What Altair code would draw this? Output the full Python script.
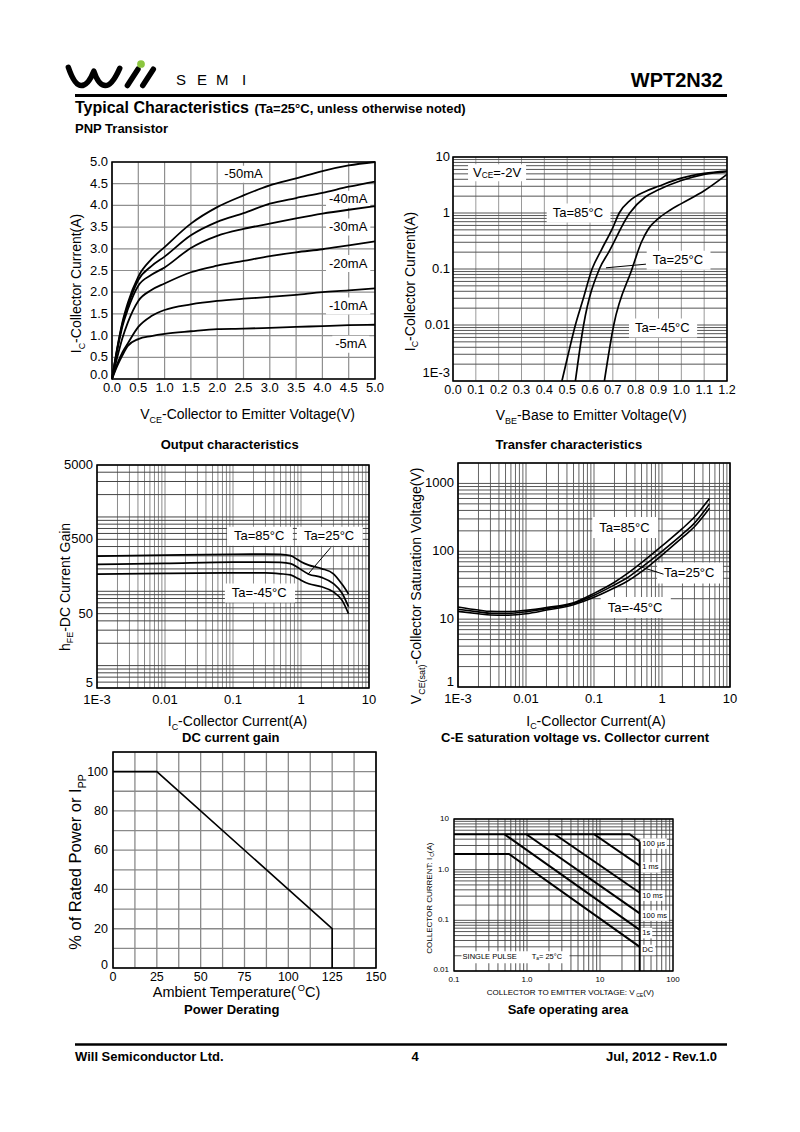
import altair as alt
import pandas as pd

FONT = "Liberation Sans"
W, H, OFF = 784, 1116, 8

# ---------------- chart values ----------------
# Output characteristics (VCE in V, IC in A, per base current)
OUT_VCE = [0, 0.1, 0.2, 0.3, 0.5, 0.75, 1.0, 1.5, 2.0, 2.5, 3.0, 3.5, 4.0, 4.5, 5.0]
OUT_IB = ["-50mA", "-40mA", "-30mA", "-20mA", "-10mA", "-5mA"]
OUT_IC_50 = [0, 0.72, 1.32, 1.75, 2.36, 2.76, 3.04, 3.58, 3.96, 4.23, 4.46, 4.62, 4.79, 4.92, 5.0]
OUT_IC_40 = [0, 0.70, 1.28, 1.68, 2.28, 2.60, 2.82, 3.31, 3.62, 3.82, 4.04, 4.17, 4.29, 4.43, 4.55]
OUT_IC_30 = [0, 0.66, 1.22, 1.60, 2.15, 2.40, 2.57, 3.02, 3.30, 3.46, 3.58, 3.70, 3.81, 3.90, 3.98]
OUT_IC_20 = [0, 0.50, 0.95, 1.30, 1.80, 2.05, 2.20, 2.46, 2.61, 2.72, 2.83, 2.92, 2.99, 3.08, 3.17]
OUT_IC_10 = [0, 0.35, 0.62, 0.82, 1.20, 1.45, 1.59, 1.72, 1.80, 1.85, 1.89, 1.94, 2.00, 2.04, 2.09]
OUT_IC_5 = [0, 0.30, 0.55, 0.76, 0.92, 0.99, 1.04, 1.10, 1.15, 1.16, 1.18, 1.20, 1.22, 1.24, 1.25]
OUT_LABEL_V = [2.5, 4.49, 4.49, 4.49, 4.49, 4.54]
OUT_LABEL_I = [4.72, 4.14, 3.5, 2.66, 1.68, 0.8]
OUT_TICKS = [0, 0.5, 1.0, 1.5, 2.0, 2.5, 3.0, 3.5, 4.0, 4.5, 5.0]
OUT_TICK_LABELS = ["0.0", "0.5", "1.0", "1.5", "2.0", "2.5", "3.0", "3.5", "4.0", "4.5", "5.0"]

# Transfer characteristics (VBE in V, IC in A)
TA = ["Ta=85°C", "Ta=25°C", "Ta=-45°C"]
TR_VBE_85 = [0.477, 0.5, 0.536, 0.57, 0.609, 0.65, 0.7, 0.728, 0.777, 0.84, 0.9, 1.0, 1.1, 1.2]
TR_IC_85 = [0.001, 0.0025, 0.01, 0.029, 0.1, 0.22, 0.55, 1.0, 1.7, 2.4, 3.0, 4.2, 5.1, 5.6]
TR_VBE_25 = [0.536, 0.572, 0.641, 0.682, 0.774, 0.842, 0.9, 1.0, 1.1, 1.2]
TR_IC_25 = [0.001, 0.01, 0.1, 0.2, 1.0, 1.93, 2.6, 3.8, 4.9, 5.5]
TR_VBE_M45 = [0.663, 0.704, 0.784, 0.825, 0.857, 0.9, 0.95, 1.0, 1.1, 1.2]
TR_IC_M45 = [0.001, 0.01, 0.1, 0.3, 0.53, 0.8, 1.12, 1.47, 2.5, 4.9]
TR_LABEL_V = [0.55, 0.988, 0.92]
TR_LABEL_I = [1.0, 0.144, 0.0088]
TR_VCE_LABEL = (0.193, 5.25)
TR_POINTER_V = [0.845, 0.67]
TR_POINTER_I = [0.122, 0.105]
TR_TICKS = [0, 0.1, 0.2, 0.3, 0.4, 0.5, 0.6, 0.7, 0.8, 0.9, 1.0, 1.1, 1.2]
TR_TICK_LABELS = ["0.0", "0.1", "0.2", "0.3", "0.4", "0.5", "0.6", "0.7", "0.8", "0.9", "1.0", "1.1", "1.2"]

# DC current gain (IC in A)
HFE_IC = [0.001, 0.01, 0.1, 0.3, 0.5, 0.7, 0.9, 1.0, 1.3, 2.0, 3.0, 4.0, 5.0]
HFE_85 = [297, 306, 315, 316, 314, 302, 265, 250, 225, 202, 172, 125, 92]
HFE_25 = [230, 237, 247, 247, 245, 236, 209, 196, 170, 154, 127, 95, 62]
HFE_M45 = [170, 174, 177, 177, 172, 166, 149, 141, 126, 115, 98, 76, 50]
HFE_LABEL_I = [0.249, 2.65, 0.249]
HFE_LABEL_H = [552, 552, 95]
HFE_POINTER_I = [2.74, 1.27]
HFE_POINTER_H = [389, 170]
HFE_TICKS = [5, 50, 500, 5000]
HFE_TICK_LABELS = ["5", "50", "500", "5000"]

# C-E saturation voltage (IC in A)
SAT_IC = [0.001, 0.002, 0.003, 0.005, 0.01, 0.02, 0.05, 0.1, 0.2, 0.3, 0.5, 1, 2, 3, 5]
SAT_85 = [15.1, 13.6, 13.0, 12.9, 13.5, 14.8, 17.5, 24, 35, 46, 68, 120, 217, 320, 600]
SAT_25 = [14.0, 12.8, 12.2, 12.1, 12.8, 14.2, 17.0, 22.5, 32, 40, 58, 100, 179, 260, 500]
SAT_M45 = [13.0, 12.0, 11.5, 11.4, 12.0, 13.6, 16.3, 21, 29, 35.5, 50, 88, 160, 230, 430]
SAT_LABEL_I = [0.287, 2.58, 0.411]
SAT_LABEL_V = [224, 48, 14.8]
SAT_POINTER_I = [0.451, 1.05]
SAT_POINTER_V = [60.4, 46]
SAT_TICKS = [1, 10, 100, 1000]
SAT_TICK_LABELS = ["1", "10", "100", "1000"]

# Power derating
PD_T = [0, 25, 125, 125]
PD_P = [100, 100, 20, 0]
PD_X_TICKS = [0, 25, 50, 75, 100, 125, 150]
PD_X_LABELS = ["0", "25", "50", "75", "100", "125", "150"]
PD_Y_TICKS = [0, 20, 40, 60, 80, 100]
PD_Y_LABELS = ["0", "20", "40", "60", "80", "100"]

# Safe operating area
SOA_NAMES = ["100 µs", "1 ms", "10 ms", "100 ms", "1s", "DC"]
SOA_V = {"100 µs": [0.1, 25.5, 35], "1 ms": [8.3, 35], "10 ms": [2.4, 35],
         "100 ms": [0.98, 35], "1s": [0.49, 35], "DC": [0.1, 0.566, 35], "limit": [35, 35]}
SOA_I = {"100 µs": [5, 5, 3.6], "1 ms": [5, 1.2], "10 ms": [5, 0.35],
         "100 ms": [5, 0.137], "1s": [5, 0.065], "DC": [2.04, 2.04, 0.030], "limit": [3.6, 0.01]}
SOA_LABEL_V = 38
SOA_LABEL_I = [3.26, 1.11, 0.307, 0.124, 0.056, 0.026]
SOA_NOTE_V = [0.308, 1.94]
SOA_NOTE_I = 0.0186
SOA_X_TICKS = [0.1, 1, 10, 100]
SOA_X_LABELS = ["0.1", "1.0", "10", "100"]
SOA_Y_TICKS = [0.01, 0.1, 1, 10]
SOA_Y_LABELS = ["0.01", "0.1", "1.0", "10"]

DEC_VALUES = [0.001, 0.01, 0.1, 1, 10]
DEC_LABELS = ["1E-3", "0.01", "0.1", "1", "10"]

# ---------------- helpers ----------------
ONE = pd.DataFrame({"k": [0]})
HELV = {" ": 278, "!": 278, "%": 889, "(": 333, ")": 333, "-": 333, ".": 278, ",": 278,
        ":": 278, "=": 584, "/": 278, "°": 400, "µ": 556}
for _d in "0123456789":
    HELV[_d] = 556
HELV.update(dict(A=667, B=667, C=722, D=722, E=667, F=611, G=778, H=722, I=278, J=500, K=667,
                 L=556, M=833, N=722, O=778, P=667, Q=778, R=722, S=667, T=611, U=722, V=667,
                 W=944, X=667, Y=667, Z=611))
HELV.update(dict(a=556, b=556, c=500, d=556, e=556, f=278, g=556, h=556, i=222, j=222, k=500,
                 l=222, m=833, n=556, o=556, p=556, q=556, r=333, s=500, t=278, u=556, v=500,
                 w=722, x=500, y=500, z=500))


def tw(s):
    return sum(HELV.get(c, 556) for c in s) / 1000.0


def ptext(t, x, y, size, weight="normal", align="left", baseline="alphabetic", angle=0):
    props = dict(text=t, font=FONT, fontSize=size, align=align, baseline=baseline, color="black")
    if weight != "normal":
        props["fontWeight"] = weight
    if angle:
        props["angle"] = angle
    return alt.Chart(ONE).mark_text(**props).encode(x=alt.value(x - OFF), y=alt.value(y - OFF))


def pieces_of(segs, size):
    out, total = [], 0.0
    for t, k in segs:
        s = size if k == "n" else size * 0.64
        w = tw(t) * s
        sh = 0.0 if k == "n" else (size * 0.28 if k == "sub" else -size * 0.42)
        out.append((t, s, w, sh))
        total += w
    return out, total


def rich_px(segs, x, y, size, angle=0, anchor="middle", weight="normal"):
    pcs, total = pieces_of(segs, size)
    pos = {"start": 0.0, "middle": -total / 2, "end": -total}[anchor]
    out = []
    for t, s, w, sh in pcs:
        if angle == 0:
            out.append(ptext(t, x + pos, y + sh, s, weight=weight))
        else:
            out.append(ptext(t, x + sh, y - pos, s, weight=weight, angle=270))
        pos += w
    return out


def box_mark(df, enc, x0, x1, y0, y1):
    k = max(abs(x0), abs(x1), abs(y0), abs(y1))
    f = lambda v: f"{v / k:.4f}"
    path = f"M{f(x0)},{f(y0)}L{f(x1)},{f(y0)}L{f(x1)},{f(y1)}L{f(x0)},{f(y1)}Z"
    return alt.Chart(df).mark_point(shape=path, size=(2 * k) ** 2, filled=True, color="white",
                                    opacity=1, strokeWidth=0).encode(**enc)


def dlabel(segs, xv, yv, sx, sy, size, align="center", padx=4, pady=3, box=True):
    df = pd.DataFrame({"x": [xv], "y": [yv]})
    enc = dict(x=alt.X("x:Q", scale=sx, axis=None), y=alt.Y("y:Q", scale=sy, axis=None))
    pcs, total = pieces_of(segs, size)
    start = -total / 2 if align == "center" else 0.0
    boxes, texts = [], []
    if box:
        boxes.append(box_mark(df, enc, start - padx, start + total + padx,
                              -size / 2 - pady, size / 2 + pady))
    pos = start
    for t, s, w, sh in pcs:
        texts.append(alt.Chart(df).mark_text(text=t, font=FONT, fontSize=s, align="left",
                                             baseline="middle", dx=pos, dy=sh,
                                             color="black").encode(**enc))
        pos += w
    return boxes, texts


def dbox(xv, yv, sx, sy, halfw, halfh):
    df = pd.DataFrame({"x": [xv], "y": [yv]})
    enc = dict(x=alt.X("x:Q", scale=sx, axis=None), y=alt.Y("y:Q", scale=sy, axis=None))
    return box_mark(df, enc, -halfw, halfw, -halfh, halfh)


def lin(dom, r0, r1):
    return alt.Scale(type="linear", domain=dom, range=[r0 - OFF, r1 - OFF], nice=False, zero=False)


def logs(dom, r0, r1):
    return alt.Scale(type="log", domain=dom, range=[r0 - OFF, r1 - OFF], nice=False)


def logvals(e0, e1, lo, hi):
    out = []
    for e in range(e0, e1 + 1):
        for m in range(1, 10):
            v = float(f"{m}e{e}")
            if lo * (1 - 1e-9) <= v <= hi * (1 + 1e-9):
                out.append(v)
    return out


def grids(xv, yv, sx, sy, xdom, ydom, xcol, ycol, gw=1.0):
    xg = alt.Chart(pd.DataFrame({"v": xv})).mark_rule(color=xcol, strokeWidth=gw).encode(
        x=alt.X("v:Q", scale=sx, axis=None),
        y=alt.YDatum(ydom[0], scale=sy, axis=None, type="quantitative"), y2=alt.Y2Datum(ydom[1]))
    yg = alt.Chart(pd.DataFrame({"v": yv})).mark_rule(color=ycol, strokeWidth=gw).encode(
        y=alt.Y("v:Q", scale=sy, axis=None),
        x=alt.XDatum(xdom[0], scale=sx, axis=None, type="quantitative"), x2=alt.X2Datum(xdom[1]))
    return [xg, yg]


def xticks(vals, labels, sx, sy, ybottom, size, pad):
    df = pd.DataFrame({"v": vals, "t": labels})
    return alt.Chart(df).mark_text(font=FONT, fontSize=size, align="center", baseline="top", dy=pad,
                                   color="black").encode(
        x=alt.X("v:Q", scale=sx, axis=None),
        y=alt.YDatum(ybottom, scale=sy, axis=None, type="quantitative"), text="t:N")


def yticks(vals, labels, sx, sy, xleft, size, pad, dy=0):
    df = pd.DataFrame({"v": vals, "t": labels})
    return alt.Chart(df).mark_text(font=FONT, fontSize=size, align="right", baseline="middle", dx=-pad,
                                   dy=dy, color="black").encode(
        y=alt.Y("v:Q", scale=sy, axis=None),
        x=alt.XDatum(xleft, scale=sx, axis=None, type="quantitative"), text="t:N")


def ytick_set(vals, labels, sx, sy, xleft, size, pad, first_dy):
    return [yticks(vals[1:], labels[1:], sx, sy, xleft, size, pad),
            yticks(vals[:1], labels[:1], sx, sy, xleft, size, pad, dy=first_dy)]


def frame(sx, sy, xdom, ydom, w=1.5):
    return alt.Chart(ONE).mark_rect(fillOpacity=0, stroke="black", strokeWidth=w).encode(
        x=alt.XDatum(xdom[0], scale=sx, axis=None, type="quantitative"), x2=alt.X2Datum(xdom[1]),
        y=alt.YDatum(ydom[0], scale=sy, axis=None, type="quantitative"), y2=alt.Y2Datum(ydom[1]))


def series_df(pairs):
    rows = []
    for name, xs, ys in pairs:
        for i, (a, b) in enumerate(zip(xs, ys)):
            rows.append({"x": a, "y": b, "s": name, "o": i})
    return pd.DataFrame(rows)


def curves(df, sx, sy, width=1.7, interp="monotone"):
    return alt.Chart(df).mark_line(color="black", strokeWidth=width, interpolate=interp).encode(
        x=alt.X("x:Q", scale=sx, axis=None), y=alt.Y("y:Q", scale=sy, axis=None),
        detail="s:N", order="o:Q")


def pointer(xs, ys, sx, sy):
    df = pd.DataFrame({"x": xs, "y": ys, "o": [0, 1]})
    return alt.Chart(df).mark_line(color="black", strokeWidth=1).encode(
        x=alt.X("x:Q", scale=sx, axis=None), y=alt.Y("y:Q", scale=sy, axis=None), order="o:Q")


def panel(parts):
    return alt.layer(*parts).resolve_scale(x="shared", y="shared")


layers = []

# ---------------- header ----------------
LOGO = ("M-0.93,-0.16 Q-0.80,0.22 -0.66,0.22 Q-0.52,0.22 -0.40,-0.08 "
        "Q-0.30,0.22 -0.16,0.22 Q-0.02,0.22 0.14,-0.14 "
        "M0.30,0.22 L0.52,-0.12 M0.62,0.22 L0.84,-0.12")
layers.append(alt.Chart(ONE).mark_point(shape=LOGO, size=96 * 96, filled=False, color="black",
                                        opacity=1, strokeWidth=5.5, strokeCap="round",
                                        strokeJoin="round").encode(x=alt.value(113 - OFF), y=alt.value(75 - OFF)))
layers.append(alt.Chart(ONE).mark_point(shape="circle", size=60, filled=True, color="#8cc63f",
                                        opacity=1).encode(x=alt.value(141 - OFF), y=alt.value(64 - OFF)))
for ch, xp in zip("SEMI", [176, 197, 216, 242]):
    layers.append(ptext(ch, xp, 85, 15))
layers.append(ptext("WPT2N32", 723, 87, 20, weight="bold", align="right"))
layers.append(alt.Chart(ONE).mark_rule(color="black", strokeWidth=3).encode(
    x=alt.value(75 - OFF), x2=alt.value(727 - OFF), y=alt.value(95.5 - OFF)))
layers.append(ptext("Typical Characteristics", 75, 112.5, 16, weight="bold"))
layers.append(ptext("(Ta=25°C, unless otherwise noted)", 254.5, 112.5, 13, weight="bold"))
layers.append(ptext("PNP Transistor", 75, 133, 13, weight="bold"))

# ---------------- P1 output characteristics ----------------
d1x, d1y = [0, 5], [0, 5]
sx1, sy1 = lin(d1x, 112, 375), lin(d1y, 379, 162)
p1 = grids(OUT_TICKS, OUT_TICKS, sx1, sy1, d1x, d1y, "#8f8f8f", "#8f8f8f", 1.2)
p1 += [xticks(OUT_TICKS, OUT_TICK_LABELS, sx1, sy1, 0, 13, 3)]
p1 += ytick_set(OUT_TICKS, OUT_TICK_LABELS, sx1, sy1, 0, 13, 4, -4)
df1 = series_df([(n, OUT_VCE, ys) for n, ys in zip(OUT_IB, [OUT_IC_50, OUT_IC_40, OUT_IC_30,
                                                             OUT_IC_20, OUT_IC_10, OUT_IC_5])])
b1, t1 = [], []
for n, xv, yv in zip(OUT_IB, OUT_LABEL_V, OUT_LABEL_I):
    b, t = dlabel([(n, "n")], xv, yv, sx1, sy1, 13, padx=3, pady=2)
    b1 += b
    t1 += t
layers.append(panel(p1 + b1 + [curves(df1, sx1, sy1, 1.8), frame(sx1, sy1, d1x, d1y, 1.6)] + t1))

# ---------------- P2 transfer characteristics ----------------
d2x, d2y = [0, 1.2], [0.001, 10]
sx2, sy2 = lin(d2x, 453, 727), logs(d2y, 381, 157)
p2 = grids(TR_TICKS, logvals(-3, 1, 0.001, 10), sx2, sy2, d2x, d2y, "#9a9a9a", "#555555", 1.0)
p2 += [xticks(TR_TICKS, TR_TICK_LABELS, sx2, sy2, 0.001, 12.5, 3)]
p2 += ytick_set(DEC_VALUES, DEC_LABELS, sx2, sy2, 0, 13, 3, -8)
df2 = series_df([(TA[0], TR_VBE_85, TR_IC_85), (TA[1], TR_VBE_25, TR_IC_25), (TA[2], TR_VBE_M45, TR_IC_M45)])
b2, t2 = [], []
for n, xv, yv in zip(TA, TR_LABEL_V, TR_LABEL_I):
    b, t = dlabel([(n, "n")], xv, yv, sx2, sy2, 13, padx=6, pady=3)
    b2 += b
    t2 += t
b, t = dlabel([("V", "n"), ("CE", "sub"), ("=-2V", "n")], TR_VCE_LABEL[0], TR_VCE_LABEL[1], sx2, sy2, 13,
              padx=5, pady=2)
b2 += b
t2 += t
layers.append(panel(p2 + b2 + [curves(df2, sx2, sy2, 1.7), pointer(TR_POINTER_V, TR_POINTER_I, sx2, sy2),
                               frame(sx2, sy2, d2x, d2y, 1.6)] + t2))

# ---------------- P3 DC current gain ----------------
d3x, d3y = [0.001, 10], [5, 5000]
sx3, sy3 = logs(d3x, 97, 369), logs(d3y, 688, 465)
p3 = grids(logvals(-3, 1, 0.001, 10), logvals(0, 3, 5, 5000), sx3, sy3, d3x, d3y, "#8a8a8a", "#444444", 1.0)
p3 += [xticks(DEC_VALUES, DEC_LABELS, sx3, sy3, 5, 13, 6)]
p3 += ytick_set(HFE_TICKS, HFE_TICK_LABELS, sx3, sy3, 0.001, 13, 4, -5)
df3 = series_df([(TA[0], HFE_IC, HFE_85), (TA[1], HFE_IC, HFE_25), (TA[2], HFE_IC, HFE_M45)])
b3, t3 = [], []
for n, xv, yv in zip(TA, HFE_LABEL_I, HFE_LABEL_H):
    b, t = dlabel([(n, "n")], xv, yv, sx3, sy3, 13, padx=7, pady=3)
    b3 += b
    t3 += t
layers.append(panel(p3 + b3 + [curves(df3, sx3, sy3, 1.7), pointer(HFE_POINTER_I, HFE_POINTER_H, sx3, sy3),
                               frame(sx3, sy3, d3x, d3y, 1.6)] + t3))

# ---------------- P4 C-E saturation voltage ----------------
d4x, d4y = [0.001, 10], [1, 2000]
sx4, sy4 = logs(d4x, 458, 730), logs(d4y, 687, 463)
p4 = grids(logvals(-3, 1, 0.001, 10), logvals(0, 3, 1, 2000), sx4, sy4, d4x, d4y, "#666666", "#555555", 1.0)
p4 += [xticks(DEC_VALUES, DEC_LABELS, sx4, sy4, 1, 13, 6)]
p4 += ytick_set(SAT_TICKS, SAT_TICK_LABELS, sx4, sy4, 0.001, 13, 4, -5)
df4 = series_df([(TA[0], SAT_IC, SAT_85), (TA[1], SAT_IC, SAT_25), (TA[2], SAT_IC, SAT_M45)])
b4, t4 = [], []
for n, xv, yv in zip(TA, SAT_LABEL_I, SAT_LABEL_V):
    b, t = dlabel([(n, "n")], xv, yv, sx4, sy4, 13, padx=7, pady=4)
    b4 += b
    t4 += t
layers.append(panel(p4 + b4 + [curves(df4, sx4, sy4, 1.6), pointer(SAT_POINTER_I, SAT_POINTER_V, sx4, sy4),
                               frame(sx4, sy4, d4x, d4y, 1.6)] + t4))

# ---------------- P5 power derating ----------------
d5x, d5y = [0, 150], [0, 110]
sx5, sy5 = lin(d5x, 113, 376), lin(d5y, 968, 752)
p5 = grids([12.5 * i for i in range(13)], [10 * i for i in range(12)], sx5, sy5, d5x, d5y,
           "#8a8a8a", "#8a8a8a", 1.3)
p5 += [xticks(PD_X_TICKS, PD_X_LABELS, sx5, sy5, 0, 12.5, 3)]
p5 += ytick_set(PD_Y_TICKS, PD_Y_LABELS, sx5, sy5, 0, 12.5, 5, -3)
df5 = series_df([("pd", PD_T, PD_P)])
layers.append(panel(p5 + [curves(df5, sx5, sy5, 1.6, "linear"), frame(sx5, sy5, d5x, d5y, 1.6)]))

# ---------------- P6 safe operating area ----------------
d6x, d6y = [0.1, 100], [0.01, 10]
sx6, sy6 = logs(d6x, 454, 673), logs(d6y, 971, 819)
p6 = grids(logvals(-1, 2, 0.1, 100), logvals(-2, 1, 0.01, 10), sx6, sy6, d6x, d6y, "#444444", "#444444", 0.9)
p6 += [xticks(SOA_X_TICKS, SOA_X_LABELS, sx6, sy6, 0.01, 8, 5)]
p6 += ytick_set(SOA_Y_TICKS, SOA_Y_LABELS, sx6, sy6, 0.1, 8, 5, -1)
df6 = series_df([(n, SOA_V[n], SOA_I[n]) for n in SOA_NAMES + ["limit"]])
b6, t6 = [], []
for n, yv in zip(SOA_NAMES, SOA_LABEL_I):
    b, t = dlabel([(n, "n")], SOA_LABEL_V, yv, sx6, sy6, 7.5, align="left", padx=2, pady=1.5)
    b6 += b
    t6 += t
b6.append(dbox(0.696, SOA_NOTE_I, sx6, sy6, 54, 6))
_, t = dlabel([("SINGLE PULSE", "n")], SOA_NOTE_V[0], SOA_NOTE_I, sx6, sy6, 7.5, box=False)
t6 += t
_, t = dlabel([("T", "n"), ("a", "sub"), (" = 25°C", "n")], SOA_NOTE_V[1], SOA_NOTE_I, sx6, sy6, 7.5, box=False)
t6 += t
layers.append(panel(p6 + b6 + [curves(df6, sx6, sy6, 2.0, "linear"), frame(sx6, sy6, d6x, d6y, 1.3)] + t6))

# ---------------- axis titles ----------------
IC_T = [("I", "n"), ("C", "sub"), ("-Collector Current(A)", "n")]
layers += rich_px(IC_T, 81, 283.5, 14, angle=270)
layers += rich_px([("V", "n"), ("CE", "sub"), ("-Collector to Emitter Voltage(V)", "n")], 248, 419, 14)
layers += rich_px(IC_T, 414.5, 281.5, 14, angle=270)
layers += rich_px([("V", "n"), ("BE", "sub"), ("-Base to Emitter Voltage(V)", "n")], 591.5, 420, 14)
layers += rich_px([("h", "n"), ("FE", "sub"), ("-DC Current Gain", "n")], 69.5, 587, 14, angle=270)
layers += rich_px(IC_T, 237.5, 726, 14)
layers += rich_px([("V", "n"), ("CE(sat)", "sub"), ("-Collector Saturation Voltage(V)", "n")], 421, 585.5, 14, angle=270)
layers += rich_px(IC_T, 596, 725.5, 14)
layers += rich_px([("% of Rated Power or I", "n"), ("PP", "sub")], 81, 862, 16.5, angle=270)
layers += rich_px([("Ambient Temperature(", "n"), ("O", "sup"), ("C)", "n")], 236.5, 997, 14.5)
layers += rich_px([("COLLECTOR CURRENT: I", "n"), ("C", "sub"), (" (A)", "n")], 432, 897, 8, angle=270)
layers += rich_px([("COLLECTOR TO EMITTER VOLTAGE: V", "n"), ("CE", "sub"), (" (V)", "n")], 571.5, 995, 8)

# ---------------- captions ----------------
for txt, xp, yp in [("Output characteristics", 229.7, 448.5), ("Transfer characteristics", 568.8, 448.5),
                    ("DC current gain", 230.8, 742), ("C-E saturation voltage vs. Collector current", 575, 742),
                    ("Power Derating", 231.7, 1014), ("Safe operating area", 568, 1013.5)]:
    layers.append(ptext(txt, xp, yp, 13, weight="bold", align="center"))

# ---------------- footer ----------------
layers.append(alt.Chart(ONE).mark_rule(color="black", strokeWidth=2.5).encode(
    x=alt.value(75 - OFF), x2=alt.value(727 - OFF), y=alt.value(1044.5 - OFF)))
layers.append(ptext("Will Semiconductor Ltd.", 75, 1060.5, 13, weight="bold"))
layers.append(ptext("4", 415, 1060.5, 13, weight="bold", align="center"))
layers.append(ptext("Jul, 2012 - Rev.1.0", 717, 1060.5, 13, weight="bold", align="right"))

chart = alt.layer(*layers).resolve_scale(x="independent", y="independent").properties(
    width=W, height=H, autosize=alt.AutoSizeParams(type="none"), padding=0, background="white"
).configure_view(stroke=None)

chart.save("out.html", embed_options={"renderer": "svg", "actions": False})
